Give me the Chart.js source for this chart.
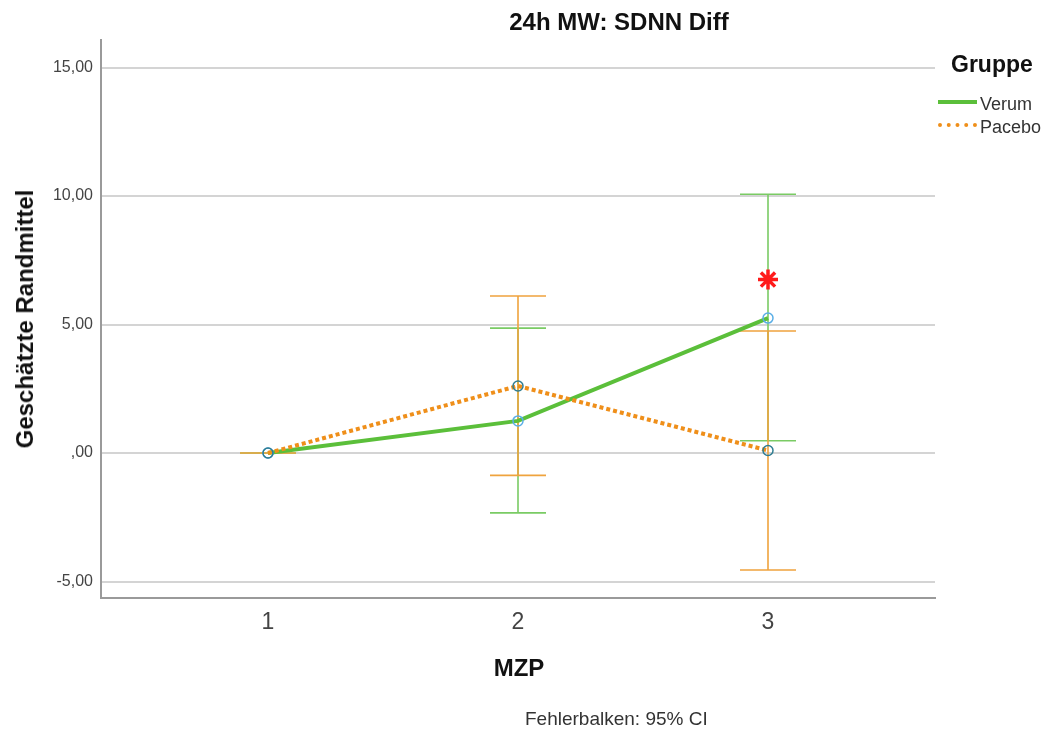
<!DOCTYPE html>
<html>
<head>
<meta charset="utf-8">
<script src="https://cdn.jsdelivr.net/npm/chart.js@4.4.1/dist/chart.umd.min.js"></script>
<style>
  body { margin: 0; background: #fff; font-family: "Liberation Sans", Arial, sans-serif; }
  #wrap { position: relative; width: 1049px; height: 729px; }
  #chart { position: absolute; left: 0; top: 0; }
  .txt { position: absolute; white-space: nowrap; color: #111; line-height: 1; }
  .title { left: 619px; top: 22px; transform: translate(-50%, -50%); font-weight: bold; font-size: 24px; }
  .ytitle { left: 25px; top: 319px; transform: translate(-50%, -50%) rotate(-90deg); font-weight: bold; font-size: 24px; }
  .xtitle { left: 519px; top: 668px; transform: translate(-50%, -50%); font-weight: bold; font-size: 24px; }
  .note { left: 525px; top: 718px; transform: translateY(-50%); font-size: 19px; color: #333; }
  .leg-head { left: 951px; top: 64px; transform: translateY(-50%); font-weight: bold; font-size: 23px; }
  .leg-item { left: 938px; font-size: 18px; color: #333; transform: translateY(-50%); }
  .leg-item span { display: inline-block; width: 39px; height: 0; vertical-align: middle; margin-right: 3px; position: relative; top: -3px; }
</style>
</head>
<body>
<div id="wrap">
  <canvas id="chart" width="1049" height="729"></canvas>
  <div class="txt title">24h MW: SDNN Diff</div>
  <div class="txt ytitle">Geschätzte Randmittel</div>
  <div class="txt xtitle">MZP</div>
  <div class="txt note">Fehlerbalken: 95% CI</div>
  <div class="txt leg-head">Gruppe</div>
  <div class="txt leg-item" style="top:104px"><span style="border-top:4px solid #5bbf3a"></span>Verum</div>
  <div class="txt leg-item" style="top:127px"><span style="border-top:4px dotted #ef8f1a"></span>Pacebo</div>
</div>
<script>
// MZP-Zeitpunkte
const mzp = [1, 2, 3];
const yTicks = [-5, 0, 5, 10, 15];

// Verum
const verumMean = [0, 1.25, 5.25];
const verumLow = [0, -2.33, 0.48];
const verumHigh = [0, 4.86, 10.07];

// Pacebo
const placeboMean = [0, 2.61, 0.1];
const placeboLow = [0, -0.87, -4.55];
const placeboHigh = [0, 6.11, 4.75];

// Signifikanz-Stern
const starPos = [{ x: 3, y: 6.75 }];

const errorBars = {
  id: 'errorBars',
  beforeDatasetsDraw(chart) {
    const { ctx, scales: { x, y } } = chart;
    const groups = [
      { lo: verumLow, hi: verumHigh, color: '#7acb64' },
      { lo: placeboLow, hi: placeboHigh, color: '#efa33e' }
    ];
    groups.forEach(g => {
      ctx.save();
      ctx.strokeStyle = g.color;
      ctx.lineWidth = 1.6;
      mzp.forEach((m, i) => {
        const px = x.getPixelForValue(m);
        const top = y.getPixelForValue(g.hi[i]);
        const bot = y.getPixelForValue(g.lo[i]);
        ctx.beginPath();
        ctx.moveTo(px, top); ctx.lineTo(px, bot);
        ctx.moveTo(px - 28, top); ctx.lineTo(px + 28, top);
        ctx.moveTo(px - 28, bot); ctx.lineTo(px + 28, bot);
        ctx.stroke();
      });
      ctx.restore();
    });
  }
};

const toPts = arr => mzp.map((m, i) => ({ x: m, y: arr[i] }));

new Chart(document.getElementById('chart'), {
  type: 'line',
  data: {
    datasets: [
      {
        label: 'Verum',
        data: toPts(verumMean),
        borderColor: '#5bbf3a',
        borderWidth: 4,
        pointRadius: 5,
        pointBorderWidth: 1.5,
        pointBorderColor: '#5aaee6',
        pointBackgroundColor: 'rgba(0,0,0,0)',
        order: 2
      },
      {
        label: 'Pacebo',
        data: toPts(placeboMean),
        borderColor: '#ef8f1a',
        borderWidth: 4,
        borderDash: [4, 3],
        pointRadius: 5,
        pointBorderWidth: 1.5,
        pointBorderColor: '#2f7d92',
        pointBackgroundColor: 'rgba(0,0,0,0)',
        order: 1
      },
      {
        label: 'sig',
        data: starPos,
        showLine: false,
        pointStyle: 'star',
        pointRadius: 10,
        pointBorderWidth: 3.5,
        pointBorderColor: '#ff1a1a',
        order: 0
      }
    ]
  },
  options: {
    responsive: false,
    animation: false,
    layout: { padding: { top: 40, right: 114, left: 0, bottom: 0 } },
    plugins: { legend: { display: false }, tooltip: { enabled: false } },
    scales: {
      x: {
        type: 'linear',
        min: 0.332,
        max: 3.668,
        afterBuildTicks: s => { s.ticks = mzp.map(v => ({ value: v })); },
        afterFit: s => { s.height = 131; },
        grid: { display: false, drawTicks: false },
        border: { display: true, color: '#9a9a9a', width: 2 },
        ticks: { padding: 11, color: '#444', font: { family: 'Liberation Sans', size: 23 } }
      },
      y: {
        min: -5.64,
        max: 16.07,
        afterBuildTicks: s => { s.ticks = yTicks.map(v => ({ value: v })); },
        afterFit: s => { s.width = 101; },
        grid: { color: '#d4d4d4', lineWidth: 2, drawTicks: false },
        border: { display: true, color: '#9a9a9a', width: 2 },
        ticks: {
          padding: 8,
          color: '#444',
          font: { family: 'Liberation Sans', size: 16 },
          callback: v => v === 0 ? ',00' : v.toFixed(2).replace('.', ',')
        }
      }
    }
  },
  plugins: [errorBars]
});
</script>
</body>
</html>
